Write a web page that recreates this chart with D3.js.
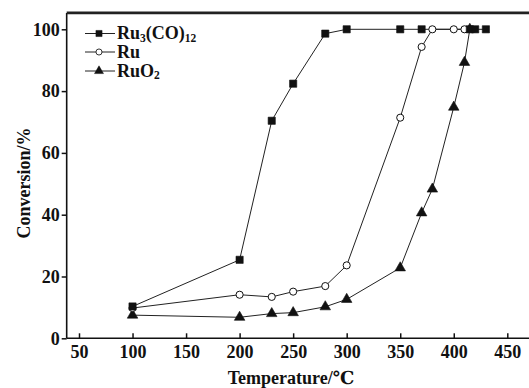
<!DOCTYPE html>
<html>
<head>
<meta charset="utf-8">
<script src="https://cdn.jsdelivr.net/npm/d3@7"></script>
<style>
  html, body { margin: 0; padding: 0; background: #fff; }
  svg { display: block; }
  svg text { font-family: "Times New Roman", "Liberation Serif", "DejaVu Serif", serif !important; font-weight: bold; fill: #111; }
</style>
</head>
<body>
<svg id="chart" width="529" height="388"></svg>
<script>
// Conversion vs. temperature for three ruthenium precursors
const xTicks = [50, 100, 150, 200, 250, 300, 350, 400, 450];
const yTicks = [0, 20, 40, 60, 80, 100];

const ru3coTemp = [100, 200, 230, 250, 280, 300, 350, 370, 415, 420, 430];
const ru3coConv = [10.3, 25.4, 70.4, 82.4, 98.6, 100, 100, 100, 100, 100, 100];

const ruTemp = [100, 200, 230, 250, 280, 300, 350, 370, 380, 400, 410];
const ruConv = [9.8, 14.1, 13.4, 15.1, 16.9, 23.6, 71.4, 94.3, 100, 100, 100];

const ruo2Temp = [100, 200, 230, 250, 280, 300, 350, 370, 380, 400, 410, 415];
const ruo2Conv = [7.5, 6.8, 8.0, 8.3, 10.2, 12.6, 22.8, 40.6, 48.3, 74.8, 89.3, 100];

const svg = d3.select("#chart");

const x = d3.scaleLinear().domain([50, 450]).range([79, 507.3]);
const y = d3.scaleLinear().domain([0, 100]).range([338.3, 29.3]);

const xMin = 38.5, xMax = 472, yMax = 105.3;

// frame
const g = svg.append("g");
g.append("line").attr("x1", x(xMin)).attr("x2", x(xMin)).attr("y1", y(0)).attr("y2", y(yMax))
  .attr("stroke", "#111").attr("stroke-width", 1.6);
g.append("line").attr("x1", x(xMin)).attr("x2", x(xMax)).attr("y1", y(0)).attr("y2", y(0))
  .attr("stroke", "#111").attr("stroke-width", 1.6);
g.append("line").attr("x1", x(xMin)).attr("x2", x(xMax)).attr("y1", y(yMax)).attr("y2", y(yMax))
  .attr("stroke", "#222").attr("stroke-width", 2.6);

// x axis: ticks pointing inward
const xAxis = d3.axisBottom(x).tickValues(xTicks).tickSize(-5).tickPadding(7).tickSizeOuter(0);
const gx = svg.append("g").attr("transform", `translate(0,${y(0)})`).call(xAxis)
  .attr("font-family", null).attr("font-size", 18);
gx.select(".domain").remove();
gx.selectAll(".tick line").attr("stroke", "#111").attr("stroke-width", 1.5);
gx.selectAll(".tick text").attr("fill", "#111");

// y axis: ticks pointing outward
const yAxis = d3.axisLeft(y).tickValues(yTicks).tickSize(5).tickPadding(2).tickSizeOuter(0);
const gy = svg.append("g").attr("transform", `translate(${x(xMin)},0)`).call(yAxis)
  .attr("font-family", null).attr("font-size", 18);
gy.select(".domain").remove();
gy.selectAll(".tick line").attr("stroke", "#111").attr("stroke-width", 1.5);
gy.selectAll(".tick text").attr("fill", "#111");

// axis titles
svg.append("text").attr("x", 291).attr("y", 384).attr("text-anchor", "middle")
  .attr("font-size", 18).text("Temperature/\u2103");
svg.append("text").attr("transform", `translate(30,183) rotate(-90)`).attr("text-anchor", "middle")
  .attr("font-size", 18).text("Conversion/%");

const line = d3.line().x(d => x(d[0])).y(d => y(d[1]));
const zip = (a, b) => a.map((v, i) => [v, b[i]]);

const data = [
  { pts: zip(ru3coTemp, ru3coConv), shape: "square" },
  { pts: zip(ruTemp, ruConv), shape: "circle" },
  { pts: zip(ruo2Temp, ruo2Conv), shape: "triangle" }
];

const sym = {
  square: d3.symbol().type(d3.symbolSquare).size(52),
  circle: d3.symbol().type(d3.symbolCircle).size(40),
  triangle: d3.symbol().type(d3.symbolTriangle).size(48)
};

function drawMarker(sel, shape, scale) {
  sel.append("path").attr("d", sym[shape]())
    .attr("transform", scale ? `scale(${scale})` : null)
    .attr("fill", shape === "circle" ? "#fff" : "#111")
    .attr("stroke", "#111").attr("stroke-width", shape === "circle" ? 1 : 0.6);
}

// lines first, then markers (circles, triangles, squares on top)
data.forEach(s => {
  svg.append("path").datum(s.pts).attr("d", line)
    .attr("fill", "none").attr("stroke", "#222").attr("stroke-width", 1);
});
[2, 1, 0].forEach(i => {
  const s = data[i];
  s.pts.forEach(p => {
    const m = svg.append("g").attr("transform", `translate(${x(p[0])},${y(p[1])})`);
    drawMarker(m, s.shape);
  });
});

// legend
const legY = [33.5, 52, 71];
data.forEach((s, i) => {
  const lg = svg.append("g").attr("transform", `translate(0,${legY[i]})`);
  lg.append("line").attr("x1", 85).attr("x2", 115).attr("y1", 0).attr("y2", 0)
    .attr("stroke", "#222").attr("stroke-width", 1);
  const m = lg.append("g").attr("transform", "translate(99,0)");
  drawMarker(m, s.shape, 0.85);
  const t = lg.append("text").attr("x", 117).attr("y", 5.5).attr("font-size", 18);
  if (i === 0) {
    t.append("tspan").text("Ru");
    t.append("tspan").attr("font-size", 11.5).attr("dy", 2.5).text("3");
    t.append("tspan").attr("dy", -2.5).text("(CO)");
    t.append("tspan").attr("font-size", 11.5).attr("dy", 2.5).text("12");
  } else if (i === 1) {
    t.text("Ru");
  } else {
    t.append("tspan").text("RuO");
    t.append("tspan").attr("font-size", 11.5).attr("dy", 2.5).text("2");
  }
});
</script>
</body>
</html>
